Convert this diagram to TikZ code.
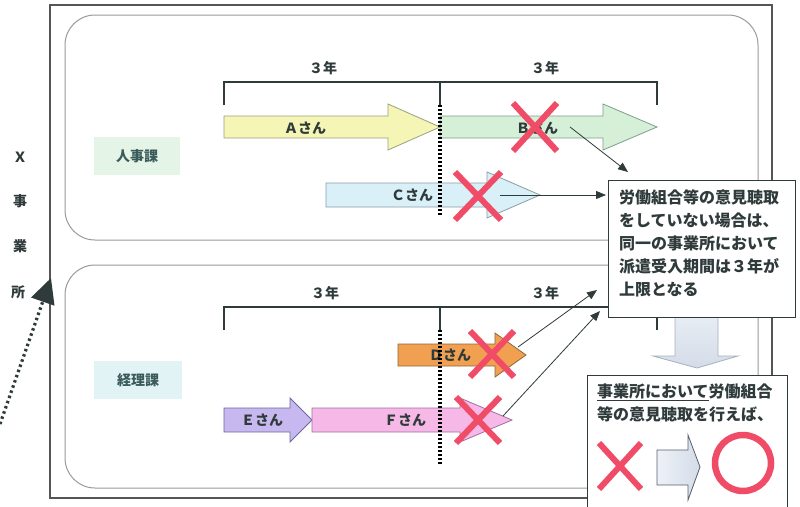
\documentclass[tikz,border=0pt]{standalone}
\usepackage{fontspec}
\setmainfont{Noto Sans CJK JP}
\usetikzlibrary{arrows.meta}
\definecolor{ink}{HTML}{2F3A3A}
\definecolor{deptink}{HTML}{3B5A5A}
\definecolor{xred}{HTML}{F04C68}
\definecolor{frame}{HTML}{555555}
\definecolor{soft}{HTML}{9A9A9A}
\definecolor{jinjibg}{HTML}{E4F4E6}
\definecolor{keiribg}{HTML}{E2F3F6}
\definecolor{afill}{HTML}{F5F5B6}\definecolor{aline}{HTML}{9AA080}
\definecolor{bfill}{HTML}{D6F0D8}\definecolor{bline}{HTML}{7E9E8E}
\definecolor{cfill}{HTML}{DAF0F8}\definecolor{cline}{HTML}{8A9CA4}
\definecolor{dfill}{HTML}{F0A050}\definecolor{dline}{HTML}{8A6A3A}
\definecolor{efill}{HTML}{C8B8F0}\definecolor{eline}{HTML}{6A6AA0}
\definecolor{ffill}{HTML}{F6B8E6}\definecolor{fline}{HTML}{A070A0}
\definecolor{gtop}{HTML}{EEF2F7}\definecolor{gbot}{HTML}{D4DCE8}
\definecolor{gline}{HTML}{A8B0C0}\definecolor{gline2}{HTML}{556070}
\newcommand\myarrow[7]{\draw[#1] ({#2},{#5-#6}) -- ({#3},{#5-#6}) -- ({#3},{#5-#7}) -- ({#4},{#5}) -- ({#3},{#5+#7}) -- ({#3},{#5+#6}) -- ({#2},{#5+#6}) -- cycle;}
\newcommand\mycross[4]{\draw[redx] ({#1-#3},{#2-#4}) -- ({#1+#3},{#2+#4}) ({#1-#3},{#2+#4}) -- ({#1+#3},{#2-#4});}
\begin{document}
\begin{tikzpicture}[x=1pt,y=-1pt,
  every node/.style={text=ink, font=\fontsize{14}{16}\selectfont\bfseries},
  redx/.style={xred, line width=6pt},
  roundbox/.style={soft, line width=1pt, rounded corners=30pt},
  bracket/.style={ink, line width=1.3pt},
  vdots/.style={black, line width=3.2pt, dash pattern=on 2.4pt off 1.6pt},
  conn/.style={ink, line width=0.8pt, -{Triangle[length=10pt,width=8pt]}},
  textbox/.style={draw=ink, fill=white, line width=1.2pt, inner sep=0pt},
  boxtext/.style={text=ink, font=\fontsize{16}{23}\selectfont\bfseries, align=left, anchor=north west, inner sep=0pt},
  lbl/.style={font=\fontsize{14}{16}\selectfont\bfseries},
  blk/.style={line width=0.8pt}]
\useasboundingbox (0,0) rectangle (800,506);
\clip (0,0) rectangle (800,506);
\fill[white] (0,0) rectangle (800,506);
% outer frame
\draw[frame, line width=1.5pt] (50,5) rectangle (772,498);
% department boxes
\draw[roundbox] (65,15) rectangle (758,240);
\draw[roundbox] (65,265) rectangle (758,488);
\node[fill=jinjibg, minimum width=86pt, minimum height=38pt, text=deptink] (jinji) at (137,156) {人事課};
\node[fill=keiribg, minimum width=88pt, minimum height=38pt, text=deptink] (keiri) at (138,380) {経理課};
% left vertical label
\node (l1) at (20,157) {Ｘ};
\node (l2) at (20,201) {事};
\node (l3) at (20,246) {業};
\node (l4) at (18,292) {所};
\coordinate (ds) at (0,424);
\coordinate (dt) at (51,278);
\draw[ink, line width=3.2pt, dash pattern=on 2.5pt off 3pt, -{Triangle[length=25pt,width=24pt]}] (ds) -- (dt);
% brackets
\draw[bracket] (224,105) -- (224,82) -- (657,82) -- (657,105);
\draw[bracket] (440,82) -- (440,105);
\draw[bracket] (224,330) -- (224,307) -- (657,307) -- (657,330);
\draw[bracket] (440,307) -- (440,330);
\node[lbl] (y1) at (323,68) {３年};
\node[lbl] (y2) at (545,68) {３年};
\node[lbl] (y3) at (325,293) {３年};
\node[lbl] (y4) at (545,293) {３年};
% block arrows
\myarrow{blk, fill=afill, draw=aline}{224}{388}{440}{127}{11}{23}
\myarrow{blk, fill=bfill, draw=bline}{440}{603}{657}{127}{11}{23}
\myarrow{blk, fill=cfill, draw=cline}{326}{487}{540}{195}{12}{23}
\myarrow{blk, fill=dfill, draw=dline}{398}{495}{526}{355}{11}{22}
\myarrow{blk, fill=efill, draw=eline}{224}{290}{312}{420}{12}{22}
\myarrow{blk, fill=ffill, draw=fline}{312}{460}{512}{420}{12}{22}
% names
\node[lbl] (na) at (305,128) {Ａさん};
\node[lbl] (nb) at (537,128) {Ｂさん};
\node[lbl] (nc) at (412,195) {Ｃさん};
\node[lbl] (nd) at (450,355) {Ｄさん};
\node[lbl] (ne) at (262,420) {Ｅさん};
\node[lbl] (nf) at (405,420) {Ｆさん};
% dotted middle lines
\draw[vdots] (440,105) -- (440,215);
\draw[vdots] (440,330) -- (440,465);
% red crosses
\mycross{535}{127}{22}{24}
\mycross{478}{196}{23}{24}
\mycross{492}{354}{22}{23}
\mycross{478}{420}{22}{23}
% connectors
\coordinate (bs) at (570,127);
\coordinate (bt) at (628,172);
\coordinate (cs) at (500,195);
\coordinate (ct) at (606,195);
\coordinate (dss) at (518,347);
\coordinate (dtt) at (597,290);
\coordinate (fs) at (503,416);
\coordinate (ft) at (600,311);
\draw[conn] (bs) -- (bt);
\draw[conn] (cs) -- (ct);
\draw[conn] (dss) -- (dtt);
\draw[conn] (fs) -- (ft);
% down arrow
\draw[blk, top color=gtop, bottom color=gbot, draw=gline]
  (675,300) -- (718,300) -- (718,356) -- (738,356) -- (697,368) -- (653,356) -- (675,356) -- cycle;
% text box 1
\node[textbox, minimum width=187pt, minimum height=137pt, anchor=north west] (box1) at (608,180) {};
\node[boxtext] (t1) at (619,189) {労働組合等の意見聴取\\をしていない場合は、\\同一の事業所において\\派遣受入期間は３年が\\上限となる};
% text box 2
\node[textbox, minimum width=200pt, minimum height=150pt, anchor=north west] (box2) at (587,375) {};
\node[boxtext] (t2) at (597,384) {\rlap{\rule[-3.5pt]{112pt}{1pt}}事業所において労働組合\\等の意見聴取を行えば、};
\mycross{620}{466}{21}{23}
\draw[blk, left color=gtop, right color=gbot, draw=gline2]
  (657,450) -- (688,450) -- (688,435) -- (700,467) -- (688,500) -- (688,485) -- (657,485) -- cycle;
\node[circle, draw=xred, line width=6.5pt, minimum size=56pt, inner sep=0pt] (ok) at (743,463) {};
\end{tikzpicture}
\end{document}
